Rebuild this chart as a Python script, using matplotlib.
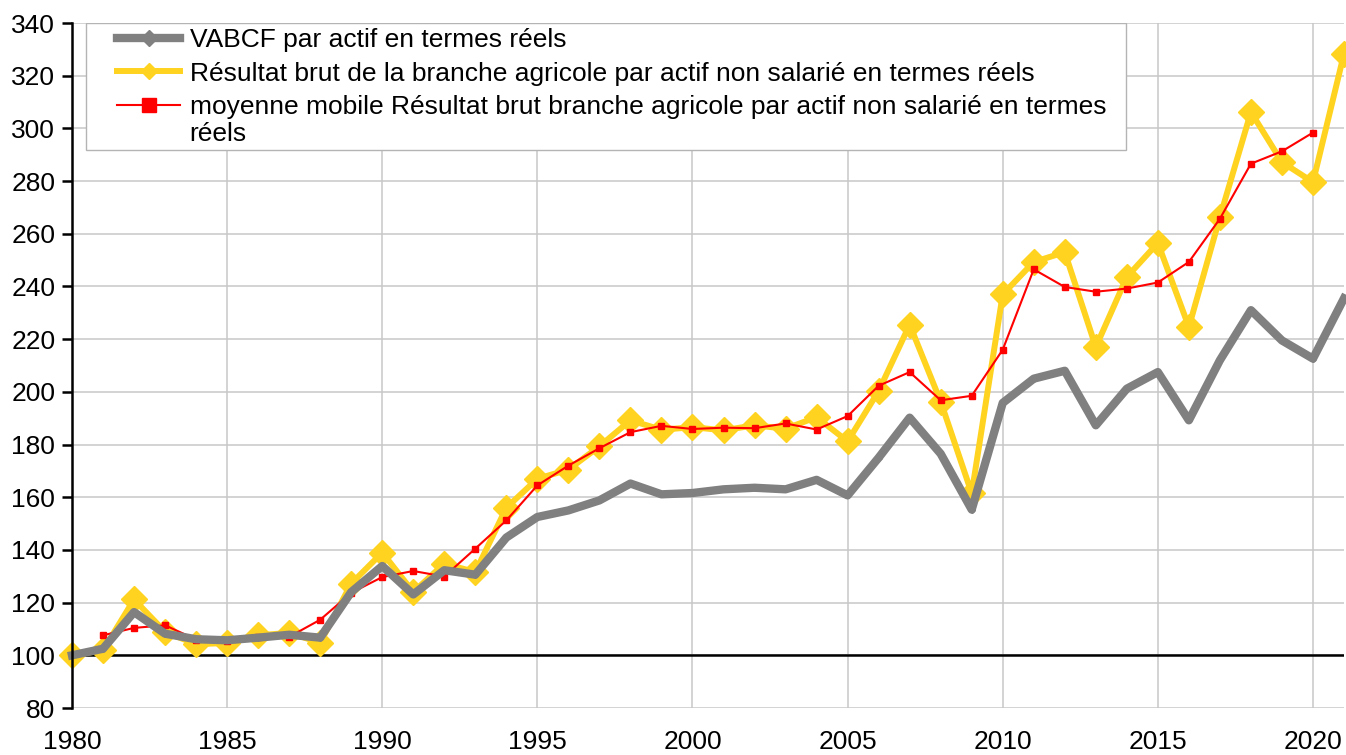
import matplotlib
matplotlib.use("Agg")
import matplotlib.pyplot as plt
from matplotlib.patches import Rectangle
from matplotlib.lines import Line2D
import numpy as np

plt.rcParams['font.family'] = ['Liberation Sans', 'DejaVu Sans']

years = list(range(1980, 2022))

vabcf = [100, 102.5, 116.4, 108.2, 106.1, 105.7, 106.7, 107.8, 106.7, 124,
         133.9, 123.1, 132.3, 130.6, 144.7, 152.5, 155, 158.8, 165.2, 161.1,
         161.6, 163, 163.6, 163, 166.6, 160.7, 175, 190.2, 176.5, 155.3,
         195.8, 205, 208, 187.3, 201.2, 207.5, 189.2, 212, 231, 219.5, 212.6, 235.5]

resultat = [100, 101.9, 121.2, 108.9, 104.2, 104.7, 107.6, 108.5, 104.8, 127.2,
            139, 124, 134.8, 131.6, 156, 167, 170.5, 179.3, 189.2, 185.6,
            186.6, 185.4, 187.3, 186, 190.4, 181.2, 200.3, 225.5, 196.3, 161.5,
            237, 249.3, 253, 217, 243.6, 256.5, 224.6, 266.3, 306.2, 287.2, 279.6, 328.3]

moyenne = [np.nan, 107.6, 110.4, 111.4, 106, 105.5, 106.9, 107, 113.5, 123.7,
           129.7, 132, 129.9, 140.5, 151.2, 164.5, 172, 178.6, 184.7, 187.1,
           185.9, 186.4, 186.2, 188, 185.7, 190.8, 202.3, 207.5, 196.8, 198.5,
           216, 246.5, 239.8, 238, 239.2, 241.5, 249.3, 265.7, 286.6, 291.3, 298.4, np.nan]

labels = ["VABCF par actif en termes réels",
          "Résultat brut de la branche agricole par actif non salarié en termes réels",
          "moyenne mobile Résultat brut branche agricole par actif non salarié en termes"]
label_wrap = "réels"

xticks = list(range(1980, 2021, 5))
yticks = list(range(80, 341, 20))

GRAY = '#808080'
YELLOW = '#FFD320'
RED = '#FF0000'
FS = 19

W, H = 1346, 755
fig = plt.figure(figsize=(W / 100, H / 100), dpi=100)
ax = fig.add_axes([72 / W, 1 - 708 / H, (1344 - 72) / W, (708 - 23) / H])

ax.set_xlim(1980, 2021)
ax.set_ylim(80, 340)
ax.set_xticks(xticks)
ax.set_yticks(yticks)
ax.grid(True, color='#c8c8c8', lw=1.1, zorder=0)
ax.set_axisbelow(True)

for s in ['top', 'right', 'bottom']:
    ax.spines[s].set_visible(False)
ax.spines['left'].set_linewidth(1.8)
ax.spines['left'].set_color('black')
ax.spines['left'].set_zorder(6)

ax.tick_params(axis='y', direction='out', length=7, width=1.8, pad=5, labelsize=FS)
ax.tick_params(axis='x', length=0, pad=16, labelsize=FS)

ax.axhline(100, color='black', lw=1.8, zorder=2.5)

ax.plot(years, resultat, color=YELLOW, lw=4.3, marker='D', ms=13.5,
        mec=YELLOW, mfc=YELLOW, zorder=3, clip_on=False)
ax.plot(years, moyenne, color=RED, lw=1.5, marker='s', ms=5,
        mec=RED, mfc=RED, zorder=3.5, clip_on=False)
ax.plot(years, vabcf, color=GRAY, lw=6, marker='D', ms=3,
        mec=GRAY, mfc=GRAY, zorder=3.8, clip_on=False)

# legend frame
rect = Rectangle((86 / W, 1 - 150 / H), (1126 - 86) / W, (150 - 23) / H,
                 transform=fig.transFigure, facecolor='white',
                 edgecolor='#b4b4b4', lw=1.0, zorder=4.5)
ax.add_patch(rect)

handles = [
    Line2D([], [], color=GRAY, lw=6, marker='D', ms=8, mec=GRAY, mfc=GRAY),
    Line2D([], [], color=YELLOW, lw=4.3, marker='D', ms=8, mec=YELLOW, mfc=YELLOW),
    Line2D([], [], color=RED, lw=1.5, marker='s', ms=10, mec=RED, mfc=RED),
]
leg = ax.legend(handles, labels, loc='upper left',
                bbox_to_anchor=(117 / W, 1 - 28 / H),
                bbox_transform=fig.transFigure, frameon=False,
                fontsize=FS, handlelength=2.4, handletextpad=0.35,
                borderpad=0.0, labelspacing=0.36, borderaxespad=0)
leg.set_zorder(5)

# wrapped second line of the third legend entry
ax.annotate(label_wrap, xy=(0, 0), xycoords=leg.get_texts()[2],
            xytext=(0, -27), textcoords='offset pixels',
            ha='left', va='bottom', fontsize=FS, zorder=6,
            annotation_clip=False)

fig.savefig('out.png', dpi=100)
